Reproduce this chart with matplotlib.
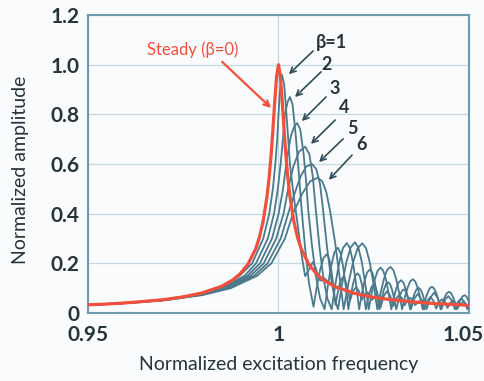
import matplotlib
matplotlib.use("Agg")
import matplotlib.pyplot as plt
import matplotlib.transforms as mtransforms

plt.rcParams['font.family'] = ['Lato', 'DejaVu Sans']

# steady-state response (beta = 0)
steady_x = [0.95, 0.955, 0.96, 0.965, 0.97, 0.975, 0.98, 0.985, 0.988, 0.99,
            0.992, 0.994, 0.995, 0.996, 0.997, 0.9975, 0.998, 0.9985, 0.999, 0.9995,
            1.0, 1.0005, 1.001, 1.0015, 1.002, 1.0025, 1.003, 1.004, 1.005, 1.006,
            1.008, 1.01, 1.012, 1.015, 1.02, 1.025, 1.03, 1.035, 1.04, 1.045, 1.05]
steady_y = [0.033, 0.036, 0.041, 0.047, 0.054, 0.065, 0.081, 0.107, 0.133, 0.159,
            0.197, 0.258, 0.305, 0.372, 0.471, 0.539, 0.625, 0.730, 0.848, 0.954,
            1.0, 0.954, 0.848, 0.729, 0.625, 0.539, 0.470, 0.371, 0.304, 0.257,
            0.195, 0.157, 0.131, 0.105, 0.079, 0.063, 0.053, 0.045, 0.039, 0.035, 0.031]

# swept responses, beta = 1..6
b1_x = [0.95, 0.96, 0.97, 0.98, 0.9846, 0.9898, 0.9931, 0.9960, 0.99758, 0.99853,
        0.99916, 0.99967, 1.0, 1.00042, 1.0009, 1.0015, 1.002, 1.0025, 1.003, 1.004,
        1.005, 1.006, 1.007, 1.008, 1.009, 1.0098, 1.0106, 1.0113, 1.012, 1.013,
        1.015, 1.02, 1.025, 1.03, 1.035, 1.04, 1.045, 1.05]
b1_y = [0.033, 0.0406, 0.0535, 0.079, 0.10, 0.15, 0.20, 0.30, 0.40, 0.50,
        0.60, 0.70, 0.80, 0.90, 0.96, 0.92, 0.82, 0.71, 0.60, 0.47,
        0.36, 0.24, 0.148, 0.175, 0.205, 0.18, 0.135, 0.13, 0.14, 0.126,
        0.105, 0.079, 0.063, 0.053, 0.045, 0.039, 0.035, 0.031]

b2_x = [0.95, 0.96, 0.97, 0.98, 0.9852, 0.9911, 0.9941, 0.9972, 0.99883, 0.99983,
        1.00056, 1.00117, 1.0017, 1.0024, 1.003, 1.0037, 1.0045, 1.0053, 1.006, 1.007,
        1.008, 1.0092, 1.01007, 1.01094, 1.01181, 1.01268, 1.01325, 1.01383, 1.0144, 1.01497,
        1.01547, 1.01596, 1.01646, 1.01695, 1.0174, 1.01784, 1.01829, 1.01873,
        1.01954, 1.02035, 1.0211, 1.02184, 1.02255, 1.02325, 1.02391, 1.02457, 1.0252, 1.02583,
        1.0272, 1.03, 1.035, 1.04, 1.045, 1.05]
b2_y = [0.0327, 0.0404, 0.053, 0.0775, 0.10, 0.15, 0.20, 0.30, 0.40, 0.50,
        0.60, 0.70, 0.80, 0.85, 0.87, 0.84, 0.72, 0.57, 0.43, 0.26,
        0.12, 0.025, 0.106, 0.175, 0.221, 0.237, 0.221, 0.177, 0.111, 0.033,
        0.0755, 0.111, 0.1356, 0.144, 0.1368, 0.116, 0.0854, 0.049,
        0.0875, 0.104, 0.089, 0.053, 0.074, 0.083, 0.074, 0.0526, 0.0655, 0.071,
        0.056, 0.053, 0.045, 0.039, 0.035, 0.031]

b3_x = [0.95, 0.96, 0.97, 0.98, 0.98575, 0.99189, 0.99513, 0.9983, 1.00003, 1.0012,
        1.0022, 1.0032, 1.0041, 1.0049, 1.0057, 1.0066, 1.0073, 1.0078, 1.0088, 1.0098,
        1.0109, 1.0121, 1.01296, 1.01382, 1.01467, 1.01553, 1.01623, 1.01694, 1.01764, 1.01834,
        1.01895, 1.01956, 1.02016, 1.02077, 1.02131, 1.02186, 1.0224, 1.02294,
        1.02344, 1.02394, 1.02443, 1.02493, 1.02539, 1.02585, 1.0263, 1.02676,
        1.02762, 1.02848, 1.02929, 1.0301, 1.03087, 1.03164, 1.03238, 1.03311, 1.03381, 1.03451,
        1.03519, 1.03587, 1.0368, 1.0378, 1.0392, 1.045, 1.05]
b3_y = [0.0326, 0.0402, 0.0525, 0.0765, 0.10, 0.15, 0.20, 0.30, 0.40, 0.50,
        0.62, 0.71, 0.75, 0.765, 0.74, 0.64, 0.52, 0.415, 0.27, 0.15,
        0.06, 0.015, 0.110, 0.189, 0.244, 0.263, 0.244, 0.189, 0.110, 0.015,
        0.0705, 0.117, 0.149, 0.160, 0.149, 0.117, 0.0705, 0.015,
        0.0525, 0.084, 0.1056, 0.113, 0.106, 0.085, 0.056, 0.021,
        0.068, 0.088, 0.070, 0.028, 0.059, 0.072, 0.060, 0.031, 0.052, 0.061,
        0.052, 0.032, 0.046, 0.051, 0.040, 0.0348, 0.031]

b4_x = [0.95, 0.96, 0.97, 0.98, 0.9863, 0.99269, 0.99613, 0.9994, 1.00133, 1.00253,
        1.0039, 1.0054, 1.007, 1.0081, 1.009, 1.0098, 1.0108, 1.0118, 1.0128, 1.01396,
        1.01495, 1.01595, 1.01694, 1.01793, 1.01874, 1.01955, 1.02036, 1.02117,
        1.02187, 1.02257, 1.02327, 1.02397, 1.0246, 1.02523, 1.02585, 1.02648,
        1.02705, 1.02763, 1.0282, 1.02877, 1.0293, 1.02984, 1.03037, 1.0309,
        1.0314, 1.03189, 1.03239, 1.03288, 1.03335, 1.03382, 1.03428, 1.03475,
        1.03564, 1.03653, 1.03738, 1.03822, 1.03904, 1.03985, 1.04063, 1.0414, 1.04215, 1.0429,
        1.04363, 1.04436, 1.04506, 1.04576, 1.04644, 1.04712, 1.04779, 1.04845, 1.0491, 1.04974,
        1.05]
b4_y = [0.0325, 0.040, 0.052, 0.075, 0.10, 0.15, 0.20, 0.30, 0.40, 0.50,
        0.59, 0.65, 0.67, 0.64, 0.55, 0.415, 0.26, 0.14, 0.06, 0.015,
        0.117, 0.204, 0.262, 0.282, 0.262, 0.204, 0.117, 0.015,
        0.0763, 0.128, 0.163, 0.175, 0.163, 0.128, 0.0763, 0.015,
        0.0567, 0.092, 0.116, 0.124, 0.116, 0.092, 0.0567, 0.015,
        0.0456, 0.0716, 0.089, 0.095, 0.089, 0.0716, 0.0456, 0.015,
        0.058, 0.0767, 0.058, 0.014, 0.049, 0.0643, 0.0504, 0.018, 0.044, 0.0553,
        0.045, 0.0204, 0.0403, 0.0488, 0.0407, 0.0219, 0.0371, 0.0436, 0.0374, 0.0228,
        0.028]

b5_x = [0.95, 0.96, 0.97, 0.98, 0.9869, 0.99359, 0.99713, 1.0006, 1.00253, 1.0042,
        1.0058, 1.0073, 1.0088, 1.0099, 1.0109, 1.0117, 1.0127, 1.0137, 1.0147, 1.01561,
        1.01672, 1.01783, 1.01894, 1.02005, 1.02096, 1.02186, 1.02277, 1.02367,
        1.02445, 1.02524, 1.02602, 1.0268, 1.0275, 1.02821, 1.02891, 1.02961,
        1.03025, 1.03089, 1.03153, 1.03217, 1.03276, 1.03336, 1.03395, 1.03454,
        1.0351, 1.03565, 1.03621, 1.03676, 1.03728, 1.03781, 1.03833, 1.03885,
        1.03985, 1.04084, 1.04179, 1.04273, 1.04364, 1.04455, 1.04542, 1.04629, 1.04713, 1.04797,
        1.04878, 1.04959, 1.05]
b5_y = [0.0324, 0.0398, 0.0515, 0.0735, 0.10, 0.15, 0.20, 0.30, 0.40, 0.48,
        0.55, 0.59, 0.60, 0.58, 0.52, 0.415, 0.27, 0.15, 0.06, 0.015,
        0.118, 0.206, 0.264, 0.285, 0.264, 0.206, 0.118, 0.015,
        0.0793, 0.134, 0.170, 0.183, 0.170, 0.134, 0.0793, 0.015,
        0.0598, 0.0977, 0.123, 0.132, 0.123, 0.0977, 0.0598, 0.015,
        0.0481, 0.0762, 0.095, 0.1015, 0.095, 0.0762, 0.0481, 0.015,
        0.0618, 0.0818, 0.0618, 0.015, 0.052, 0.068, 0.052, 0.015, 0.0453, 0.0583,
        0.0453, 0.015, 0.035]

b6_x = [0.95, 0.96, 0.97, 0.98, 0.9875, 0.99439, 0.99813, 1.0017, 1.0038, 1.0062,
        1.0083, 1.0103, 1.0115, 1.0125, 1.0135, 1.0148, 1.016, 1.0171,
        1.01833, 1.01955, 1.02078, 1.022, 1.02298, 1.02397, 1.02495, 1.02593,
        1.02679, 1.02765, 1.02851, 1.02937, 1.03014, 1.0309, 1.03167, 1.03244,
        1.03314, 1.03385, 1.03455, 1.03525, 1.0359, 1.03655, 1.0372, 1.03785,
        1.03846, 1.03907, 1.03967, 1.04028, 1.04085, 1.04143, 1.042, 1.04257,
        1.04312, 1.04366, 1.04421, 1.04475, 1.04527, 1.04579, 1.04631, 1.04683,
        1.04733, 1.04782, 1.04832, 1.04881, 1.0493, 1.05]
b6_y = [0.0323, 0.0395, 0.051, 0.072, 0.10, 0.15, 0.20, 0.30, 0.40, 0.48,
        0.53, 0.545, 0.53, 0.49, 0.415, 0.29, 0.15, 0.015,
        0.117, 0.203, 0.261, 0.281, 0.261, 0.203, 0.117, 0.015,
        0.0805, 0.136, 0.173, 0.186, 0.173, 0.136, 0.0805, 0.015,
        0.0613, 0.1006, 0.127, 0.136, 0.127, 0.1006, 0.0613, 0.015,
        0.0497, 0.079, 0.0987, 0.1056, 0.0987, 0.079, 0.0497, 0.015,
        0.042, 0.065, 0.0802, 0.0856, 0.0802, 0.065, 0.042, 0.015,
        0.0366, 0.0548, 0.067, 0.0713, 0.067, 0.045]

swept = [(b1_x, b1_y), (b2_x, b2_y), (b3_x, b3_y),
         (b4_x, b4_y), (b5_x, b5_y), (b6_x, b6_y)]

# beta labels: text position, arrow start, arrow tip
beta_labels = ['\u03b2=1', '2', '3', '4', '5', '6']
label_pos = [(1.0138, 1.091), (1.0127, 0.999), (1.0148, 0.906),
             (1.0172, 0.826), (1.0193, 0.745), (1.0219, 0.677)]
arrow_from = [(1.0096, 1.063), (1.0117, 0.979), (1.0130, 0.878),
              (1.0154, 0.785), (1.0175, 0.709), (1.0198, 0.644)]
arrow_to = [(1.0022, 0.954), (1.0038, 0.862), (1.0056, 0.765),
            (1.0080, 0.673), (1.0101, 0.600), (1.0127, 0.528)]

gray = '#4a7a8c'
red = '#f0503c'
dark = '#26343b'
axcol = '#6b9bb0'

fig = plt.figure(figsize=(4.85, 3.81), dpi=100, facecolor='#fafbfc')
ax = fig.add_axes([0.1814, 0.1785, 0.7856, 0.782])
ax.set_facecolor('#fafbfc')

for xs, ys in swept:
    ax.plot(xs, ys, color=gray, lw=1.3, zorder=3)
ax.plot(steady_x, steady_y, color=red, lw=2.3, zorder=4)

ax.set_xlim(0.95, 1.05)
ax.set_ylim(0, 1.2)
ax.set_xticks([0.95, 1.0, 1.05])
ax.set_xticklabels(['0.95', '1', '1.05'])
ax.set_yticks([0, 0.2, 0.4, 0.6, 0.8, 1.0, 1.2])
ax.set_yticklabels(['0', '0.2', '0.4', '0.6', '0.8', '1.0', '1.2'])
ax.tick_params(length=0, labelsize=15, labelcolor=dark)
ax.tick_params(axis='y', pad=6)
ax.tick_params(axis='x', pad=9)
for t in ax.get_xticklabels() + ax.get_yticklabels():
    t.set_fontweight('bold')
# nudge the last x label so it stays inside the picture
last = ax.get_xticklabels()[-1]
last.set_transform(last.get_transform() +
                   mtransforms.ScaledTranslation(-6 / 100, 0, fig.dpi_scale_trans))
ax.grid(True, color='#c3d9e3', lw=0.9, zorder=0)
for s in ax.spines.values():
    s.set_color(axcol)
    s.set_linewidth(1.5)

ax.set_xlabel('Normalized excitation frequency', fontsize=14, color=dark)
ax.set_ylabel('Normalized amplitude', fontsize=14, color=dark)
ax.xaxis.set_label_coords(0.5, -0.145)
ax.yaxis.set_label_coords(-0.155, 0.48)

ax.annotate('', xy=(0.9986, 0.818), xytext=(0.9847, 1.019),
            arrowprops=dict(arrowstyle='->', color=red, lw=1.6, mutation_scale=10))
ax.text(0.9776, 1.059, 'Steady (\u03b2=0)', color=red, fontsize=12,
        ha='center', va='center')

for lab, p, a0, a1 in zip(beta_labels, label_pos, arrow_from, arrow_to):
    ax.text(p[0], p[1], lab, color=dark, fontsize=13, fontweight='bold',
            ha='center', va='center')
    ax.annotate('', xy=a1, xytext=a0,
                arrowprops=dict(arrowstyle='->', color='#2f4d59', lw=1.2,
                                mutation_scale=10))

fig.savefig('out.png', dpi=100, facecolor=fig.get_facecolor())
